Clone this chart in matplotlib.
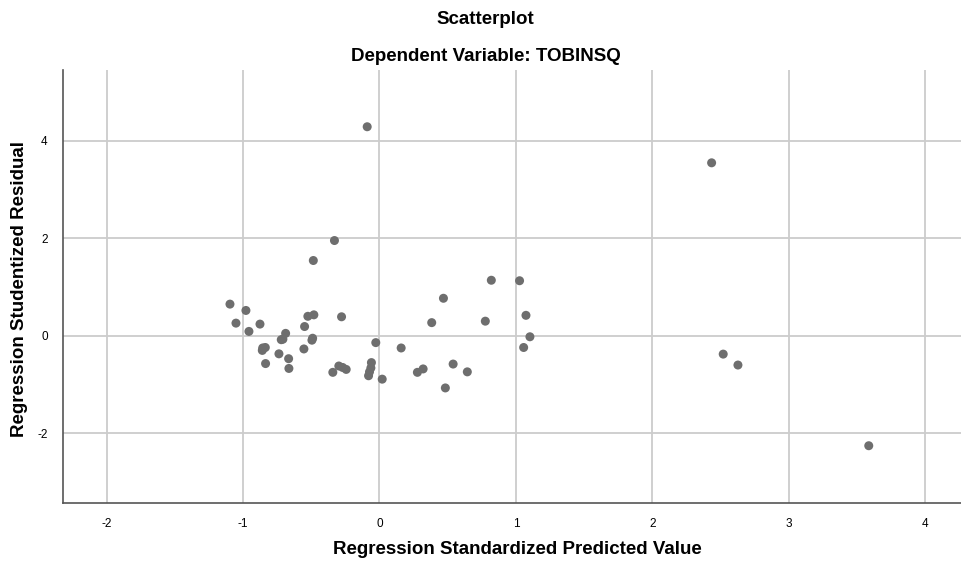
import matplotlib
matplotlib.use("Agg")
import matplotlib.pyplot as plt

plt.rcParams['font.family'] = ['Liberation Sans', 'DejaVu Sans']
plt.rcParams['axes.unicode_minus'] = False

# Regression standardized predicted value (x) vs studentized residual (y)
pred = [-1.096, -0.979, -1.052, -0.957, -0.876, -0.525, -0.481, -0.278, -0.549,
        -0.688, -0.708, -0.720, -0.490, -0.495, -0.856, -0.837, -0.859, -0.737,
        -0.554, -0.666, -0.835, -0.664, -0.027, -0.342, -0.298, -0.244, -0.270,
        -0.059, -0.063, -0.073, -0.080, 0.020, -0.330, -0.485, -0.090,
        0.820, 1.027, 0.469, 0.383, 0.776, 1.074, 1.103, 1.057, 0.159, 0.278,
        0.320, 0.540, 0.644, 0.483,
        2.435, 2.520, 2.628, 3.587]
resid = [0.65, 0.52, 0.26, 0.09, 0.24, 0.40, 0.43, 0.39, 0.19,
         0.05, -0.07, -0.08, -0.05, -0.09, -0.25, -0.24, -0.30, -0.37,
         -0.27, -0.47, -0.57, -0.67, -0.14, -0.75, -0.62, -0.69, -0.65,
         -0.55, -0.66, -0.74, -0.82, -0.89, 1.955, 1.545, 4.29,
         1.14, 1.13, 0.77, 0.27, 0.30, 0.42, -0.02, -0.24, -0.25, -0.75,
         -0.68, -0.58, -0.74, -1.07,
         3.55, -0.376, -0.60, -2.256]

xticks = [-2, -1, 0, 1, 2, 3, 4]
yticks = [-2, 0, 2, 4]

fig = plt.figure(figsize=(9.62, 5.67), dpi=100)
ax = fig.add_axes([0.0655, 0.113, 0.933, 0.764])

ax.scatter(pred, resid, s=42, color='#6e6e6e', edgecolors='none', zorder=3)

ax.set_xlim(-2.32, 4.26)
ax.set_ylim(-3.43, 5.46)
ax.set_xticks(xticks)
ax.set_yticks(yticks)
ax.grid(True, color='#cccccc', linewidth=1.3)
ax.set_axisbelow(True)
ax.tick_params(length=0, labelsize=8.5, pad=11)

for side in ['top', 'right']:
    ax.spines[side].set_visible(False)
for side in ['left', 'bottom']:
    ax.spines[side].set_color('#555555')
    ax.spines[side].set_linewidth(1.2)

fig.text(0.538, 0.030, 'Regression Standardized Predicted Value', ha='center',
         va='center', fontsize=13.5, fontweight='bold')
fig.text(0.020, 0.49, 'Regression Studentized Residual', ha='center',
         va='center', rotation=90, fontsize=13.5, fontweight='bold')

fig.text(0.505, 0.965, 'Scatterplot', ha='center', va='center',
         fontsize=13.5, fontweight='bold')
fig.text(0.505, 0.901, 'Dependent Variable: TOBINSQ', ha='center', va='center',
         fontsize=13.5, fontweight='bold')

fig.savefig('out.png', dpi=100)
